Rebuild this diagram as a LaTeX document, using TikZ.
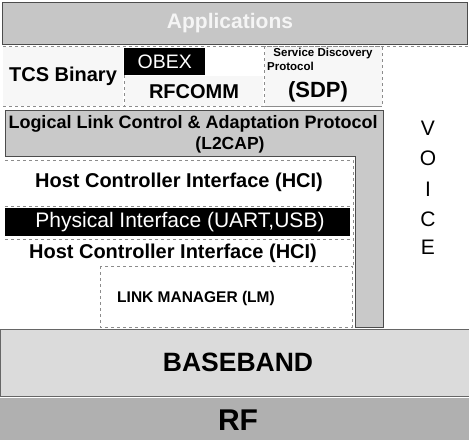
\documentclass[tikz,border=0pt]{standalone}
\usepackage{fontspec}
\setmainfont{Liberation Sans}
\begin{document}
\begin{tikzpicture}[x=1pt,y=-1pt,
  lbl/.style={inner sep=0pt,font=\bfseries\fontsize{20}{22}\selectfont},
  graybar/.style={fill=gray!42,draw=black!70,line width=0.8pt},
  dashbox/.style={draw=black!45,dashed,line width=0.5pt},
]
\useasboundingbox (0,0) rectangle (469,440);
% Applications
\path[graybar,fill=gray!45] (2,2) rectangle (467,44);
\node[lbl,text=gray!8,font=\bfseries\fontsize{21}{23}\selectfont] (apps) at (230,23) {Applications};
% row 2
\draw[dashbox] (3,46) -- (469,46);
\fill[gray!6] (3,47) rectangle (123,106);
\fill[gray!6] (125,76) rectangle (263,106);
\fill[gray!6] (265,47) rectangle (382,106);
\node[lbl,fill=black,text=white,font=\fontsize{19.5}{21}\selectfont,minimum width=81pt,minimum height=27pt,anchor=north west] (obex) at (124,48) {OBEX};
\node[lbl] (tcs) at (63,76) {TCS Binary};
\node[lbl] (rfcomm) at (194,92) {RFCOMM};
\draw[dashbox] (124,75) -- (124,106);
\draw[dashbox] (264,46) rectangle (382,106);
\node[lbl,font=\bfseries\fontsize{11.5}{13}\selectfont] (sd) at (323,54) {Service Discovery};
\node[lbl,font=\bfseries\fontsize{11.5}{13}\selectfont,anchor=west] (proto) at (267,66) {Protocol};
\node[lbl,font=\bfseries\fontsize{22}{24}\selectfont] (sdp) at (318,92) {(SDP)};
\draw[dashbox] (3,106) -- (382,106);
% L2CAP and right strip
\path[graybar] (5,110) -- (383,110) -- (383,327) -- (355,327) -- (355,156) -- (5,156) -- cycle;
\node[lbl,font=\bfseries\fontsize{18}{20}\selectfont] (l2a) at (193,124) {Logical Link Control \& Adaptation Protocol};
\node[lbl,font=\bfseries\fontsize{17.5}{19}\selectfont] (l2b) at (230,145) {(L2CAP)};
% HCI stack
\draw[dashbox] (5,160) -- (353,160) -- (353,266);
\draw[dashbox] (5,206) -- (353,206);
\node[lbl] (hci1) at (179,182) {Host Controller Interface (HCI)};
\node[fill=black,inner sep=0pt,minimum width=345pt,minimum height=28pt,anchor=north west] (phy) at (5,208) {};
\node[lbl,text=white,font=\fontsize{21}{23}\selectfont] (phyt) at (180,222) {Physical Interface (UART,USB)};
\draw[dashbox] (5,239) -- (353,239);
\node[lbl] (hci2) at (173,253) {Host Controller Interface (HCI)};
\draw[dashbox] (100,266) rectangle (352,327);
\node[lbl,font=\bfseries\fontsize{15.5}{17}\selectfont] (lm) at (196,298) {LINK MANAGER (LM)};
% VOICE
\foreach \c/\yy in {V/128,O/158,I/189,C/219,E/247}
  \node[lbl,font=\fontsize{21}{23}\selectfont] (v\c) at (428,\yy) {\c};
% Baseband & RF
\path[graybar,fill=gray!28,draw=black!60] (0,329) rectangle (469,396);
\node[lbl,font=\bfseries\fontsize{26.5}{29}\selectfont] (bb) at (238,362) {BASEBAND};
\path[fill=gray!62] (0,398) rectangle (469,440);
\node[lbl,font=\bfseries\fontsize{30}{32}\selectfont] (rf) at (238,420) {RF};
\end{tikzpicture}
\end{document}
